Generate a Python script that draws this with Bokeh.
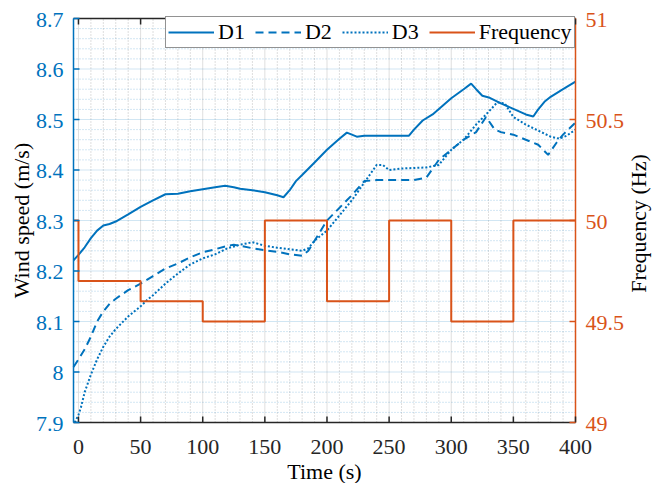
import math
from bokeh.plotting import figure
from bokeh.models import (Range1d, Legend, LegendItem, ColumnDataSource, LabelSet, Label)
from bokeh.core.properties import value
from bokeh.embed import file_html
from bokeh.resources import INLINE

# ---- data ----
t1 = [-4, 0, 5, 10, 15, 20, 25, 30, 40, 50, 60, 70, 80, 90, 100, 110, 118, 125, 130, 140,
      150, 160, 165, 170, 175, 180, 190, 200, 210, 216, 220, 224, 230, 240, 250, 260, 266,
      270, 277, 285, 300, 310, 316, 320, 325, 331, 340, 350, 360, 366, 370, 375, 380, 390, 400]
d1 = [8.221, 8.232, 8.247, 8.265, 8.28, 8.29, 8.293, 8.298, 8.312, 8.327, 8.34, 8.352, 8.353,
      8.358, 8.362, 8.366, 8.369, 8.366, 8.363, 8.36, 8.356, 8.35, 8.346, 8.36, 8.378, 8.39,
      8.415, 8.44, 8.462, 8.474, 8.47, 8.466, 8.468, 8.468, 8.468, 8.468, 8.468, 8.48, 8.498,
      8.51, 8.542, 8.56, 8.571, 8.56, 8.547, 8.543, 8.532, 8.521, 8.51, 8.506, 8.52, 8.535,
      8.545, 8.56, 8.575]

t2 = [-4, 0, 5, 10, 15, 20, 25, 30, 40, 50, 60, 70, 80, 90, 100, 110, 120, 125, 130, 140, 150,
      160, 170, 180, 185, 190, 200, 210, 220, 230, 240, 250, 260, 270, 280, 290, 300, 310, 320,
      328, 335, 340, 350, 360, 370, 378, 385, 390, 400]
d2 = [8.01, 8.025, 8.045, 8.07, 8.1, 8.12, 8.135, 8.145, 8.162, 8.175, 8.19, 8.205, 8.215,
      8.227, 8.237, 8.243, 8.25, 8.252, 8.25, 8.245, 8.241, 8.238, 8.233, 8.23, 8.24, 8.26,
      8.30, 8.325, 8.35, 8.378, 8.38, 8.38, 8.38, 8.38, 8.385, 8.42, 8.44, 8.46, 8.475, 8.505,
      8.48, 8.475, 8.47, 8.46, 8.45, 8.43, 8.455, 8.47, 8.494]

t3 = [-3, 0, 2, 5, 10, 15, 20, 25, 30, 40, 50, 55, 60, 70, 80, 90, 100, 110, 120, 130, 140,
      150, 160, 170, 180, 185, 190, 200, 210, 220, 230, 240, 245, 250, 260, 270, 280, 290, 300,
      310, 320, 330, 337, 343, 350, 360, 370, 380, 387, 393, 400]
d3 = [7.9, 7.915, 7.93, 7.96, 7.995, 8.025, 8.05, 8.07, 8.085, 8.11, 8.13, 8.142, 8.152, 8.175,
      8.195, 8.213, 8.225, 8.233, 8.245, 8.252, 8.257, 8.25, 8.246, 8.243, 8.24, 8.245, 8.26,
      8.28, 8.31, 8.34, 8.375, 8.41, 8.41, 8.4, 8.403, 8.404, 8.405, 8.41, 8.44, 8.46, 8.49,
      8.515, 8.534, 8.532, 8.505, 8.49, 8.478, 8.466, 8.462, 8.468, 8.48]

tf = [-4, 0, 0, 50, 50, 100, 100, 150, 150, 200, 200, 250, 250, 300, 300, 350, 350, 400]
freq = [50, 50, 49.7, 49.7, 49.6, 49.6, 49.5, 49.5, 50, 50, 49.6, 49.6, 50, 50, 49.5, 49.5, 50, 50]

x_lim = (-4, 400)
y_lim = (7.9, 8.7)
f_lim = (49, 51)
x_ticks = [0, 50, 100, 150, 200, 250, 300, 350, 400]
x_tick_labels = ["0", "50", "100", "150", "200", "250", "300", "350", "400"]
x_minor_ticks = [v for v in range(0, 401, 10) if v % 50]
y_left_ticks = [7.9, 8.0, 8.1, 8.2, 8.3, 8.4, 8.5, 8.6, 8.7]
y_left_labels = ["7.9", "8", "8.1", "8.2", "8.3", "8.4", "8.5", "8.6", "8.7"]
y_left_minor = [round(7.9 + 0.02 * i, 2) for i in range(41) if i % 5]
y_right_ticks = [49, 49.5, 50, 50.5, 51]
y_right_labels = ["49", "49.5", "50", "50.5", "51"]

# ---- layout (pixels) ----
W, H = 652, 483
ML, MR, MT, MB = 73, 77, 18, 61          # margins around the axes box
PW, PH = W - ML - MR, H - MT - MB
TICK = 6

BLUE = "#0072BD"
ORANGE = "#D95319"
DARK = "#262626"
FONT = "Liberation Serif"
FS = "22px"

upx = PW / (x_lim[1] - x_lim[0])
upy = PH / (y_lim[1] - y_lim[0])
upf = PH / (f_lim[1] - f_lim[0])

p = figure(frame_width=W, frame_height=H, min_border=0, x_axis_type=None, y_axis_type=None,
           x_range=Range1d(x_lim[0] - ML / upx, x_lim[1] + MR / upx),
           y_range=Range1d(y_lim[0] - MB / upy, y_lim[1] + MT / upy),
           output_backend="svg", toolbar_location=None,
           background_fill_color="white", border_fill_color="white")
p.outline_line_color = None
p.extra_y_ranges = {"freq": Range1d(f_lim[0] - MB / upf, f_lim[1] + MT / upf)}

n_xm, n_ym = len(x_minor_ticks), len(y_left_minor)
# grid
p.segment(x0=x_minor_ticks, x1=x_minor_ticks, y0=[y_lim[0]] * n_xm, y1=[y_lim[1]] * n_xm,
          line_color=DARK, line_alpha=0.3, line_dash="1 2", line_width=1)
p.segment(x0=[x_lim[0]] * n_ym, x1=[x_lim[1]] * n_ym, y0=y_left_minor, y1=y_left_minor,
          line_color=BLUE, line_alpha=0.35, line_dash="1 2", line_width=1)
p.segment(x0=x_ticks, x1=x_ticks, y0=[y_lim[0]] * len(x_ticks), y1=[y_lim[1]] * len(x_ticks),
          line_color=DARK, line_alpha=0.15, line_width=1)
p.segment(x0=[x_lim[0]] * len(y_left_ticks), x1=[x_lim[1]] * len(y_left_ticks),
          y0=y_left_ticks, y1=y_left_ticks, line_color=BLUE, line_alpha=0.18, line_width=1)

# data
r1 = p.line(t1, d1, line_color=BLUE, line_width=2)
r2 = p.line(t2, d2, line_color=BLUE, line_width=2, line_dash="8 5")
r3 = p.line(t3, d3, line_color=BLUE, line_width=2, line_dash="2 2")
r4 = p.line(tf, freq, line_color=ORANGE, line_width=2, y_range_name="freq")

# axes box
p.segment(x0=[x_lim[0], x_lim[0]], x1=[x_lim[1], x_lim[1]], y0=[y_lim[0], y_lim[1]],
          y1=[y_lim[0], y_lim[1]], line_color=DARK, line_width=1.5)
p.segment(x0=[x_lim[0]], x1=[x_lim[0]], y0=[y_lim[0]], y1=[y_lim[1]], line_color=BLUE,
          line_width=1.5)
p.segment(x0=[x_lim[1]], x1=[x_lim[1]], y0=[y_lim[0]], y1=[y_lim[1]], line_color=ORANGE,
          line_width=1.5)
# ticks (inward)
nx = len(x_ticks)
p.segment(x0=x_ticks, x1=x_ticks, y0=[y_lim[0]] * nx, y1=[y_lim[0] + TICK / upy] * nx,
          line_color=DARK, line_width=1.5)
p.segment(x0=x_ticks, x1=x_ticks, y0=[y_lim[1]] * nx, y1=[y_lim[1] - TICK / upy] * nx,
          line_color=DARK, line_width=1.5)
ny = len(y_left_ticks)
p.segment(x0=[x_lim[0]] * ny, x1=[x_lim[0] + TICK / upx] * ny, y0=y_left_ticks,
          y1=y_left_ticks, line_color=BLUE, line_width=1.5)
nf = len(y_right_ticks)
p.segment(x0=[x_lim[1]] * nf, x1=[x_lim[1] - TICK / upx] * nf, y0=y_right_ticks,
          y1=y_right_ticks, line_color=ORANGE, line_width=1.5, y_range_name="freq")

# tick labels
bottom_src = ColumnDataSource(dict(x=x_ticks, y=[y_lim[0]] * nx, text=x_tick_labels))
p.add_layout(LabelSet(x="x", y="y", text="text", source=bottom_src, y_offset=-31,
                      text_font=value(FONT), text_font_size=value(FS),
                      text_color=DARK, text_align="center", text_baseline="alphabetic"))
left_src = ColumnDataSource(dict(x=[x_lim[0]] * ny, y=y_left_ticks, text=y_left_labels))
p.add_layout(LabelSet(x="x", y="y", text="text", source=left_src, x_offset=-10, y_offset=-1,
                      text_font=value(FONT), text_font_size=value(FS),
                      text_color=BLUE, text_align="right", text_baseline="middle"))
right_src = ColumnDataSource(dict(x=[x_lim[1]] * nf, y=y_right_ticks, text=y_right_labels))
p.add_layout(LabelSet(x="x", y="y", y_range_name="freq", text="text", source=right_src,
                      x_offset=10, y_offset=-1, text_font=value(FONT),
                      text_font_size=value(FS), text_color=ORANGE, text_align="left",
                      text_baseline="middle"))

# axis titles
mid_y = MB + PH / 2
p.add_layout(Label(x=ML + PW / 2, y=12, x_units="screen", y_units="screen", text="Time (s)",
                   text_font=FONT, text_font_size=FS, text_color="black",
                   text_align="center", text_baseline="alphabetic"))
p.add_layout(Label(x=21, y=mid_y, x_units="screen", y_units="screen",
                   text="Wind speed (m/s)", angle=math.pi / 2, text_font=FONT,
                   text_font_size=FS, text_color="black", text_align="center",
                   text_baseline="alphabetic"))
p.add_layout(Label(x=W - 14, y=mid_y - 3, x_units="screen", y_units="screen",
                   text="Frequency (Hz)", angle=math.pi / 2, text_font=FONT,
                   text_font_size=FS, text_color="black", text_align="center",
                   text_baseline="alphabetic"))

legend = Legend(items=[LegendItem(label="D1", renderers=[r1]),
                       LegendItem(label="D2", renderers=[r2]),
                       LegendItem(label="D3", renderers=[r3]),
                       LegendItem(label="Frequency", renderers=[r4])],
                orientation="horizontal", location=(165, H - 48))
legend.label_text_font = FONT
legend.label_text_font_size = FS
legend.label_text_color = "black"
legend.glyph_width = 46
legend.label_standoff = 4
legend.spacing = 10
legend.padding = 2
legend.margin = 0
legend.border_line_color = DARK
legend.border_line_width = 1.5
legend.background_fill_alpha = 1
p.add_layout(legend, "center")

open("out.html", "w").write(file_html(p, INLINE))
